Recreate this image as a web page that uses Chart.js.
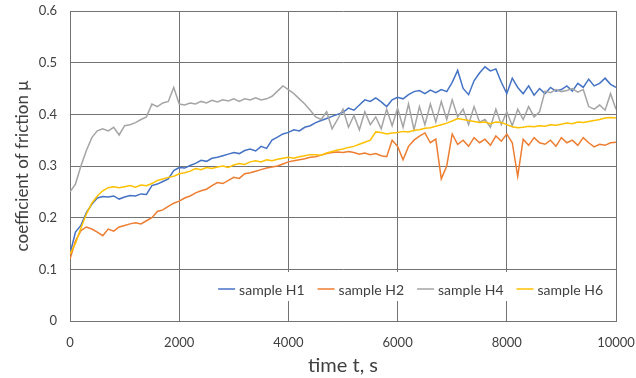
<!DOCTYPE html>
<html>
<head>
<meta charset="utf-8">
<script src="https://cdn.jsdelivr.net/npm/chart.js@4"></script>
<style>
  body { margin: 0; background: #fff; }
  canvas { display: block; }
</style>
</head>
<body>
<canvas id="frictionChart" width="636" height="378"></canvas>
<script>
/* Data, one value every 100 s from 0 to 10000 s */
const step = 100;
const seriesNames = ['sample H1', 'sample H2', 'sample H4', 'sample H6'];
const seriesColors = ['#4472C4', '#ED7D31', '#A5A5A5', '#FFC000'];
const xTicks = [0, 2000, 4000, 6000, 8000, 10000];
const yTicks = [0, 0.1, 0.2, 0.3, 0.4, 0.5, 0.6];

const h1 = [0.13, 0.172, 0.185, 0.21, 0.226, 0.238, 0.241, 0.24, 0.242, 0.236,
  0.24, 0.243, 0.242, 0.246, 0.245, 0.262, 0.265, 0.27, 0.275, 0.291,
  0.297, 0.296, 0.301, 0.305, 0.311, 0.309, 0.315, 0.317, 0.32, 0.323,
  0.326, 0.324, 0.33, 0.333, 0.329, 0.338, 0.334, 0.35, 0.356, 0.362,
  0.365, 0.37, 0.368, 0.375, 0.378, 0.384, 0.388, 0.392, 0.396, 0.4,
  0.404, 0.412, 0.408, 0.418, 0.428, 0.425, 0.432, 0.424, 0.415, 0.428,
  0.433, 0.43, 0.438, 0.444, 0.446, 0.44, 0.447, 0.442, 0.448, 0.444,
  0.462, 0.485, 0.45, 0.438, 0.465, 0.48, 0.492, 0.484, 0.488, 0.462,
  0.44, 0.47, 0.452, 0.44, 0.455, 0.437, 0.45, 0.44, 0.452, 0.445,
  0.448, 0.455, 0.445, 0.46, 0.452, 0.468, 0.455, 0.46, 0.47, 0.458,
  0.452];

const h2 = [0.12, 0.155, 0.175, 0.182, 0.178, 0.172, 0.165, 0.178, 0.174, 0.182,
  0.185, 0.188, 0.19, 0.188, 0.194, 0.2, 0.212, 0.215, 0.222, 0.228,
  0.232, 0.238, 0.242, 0.248, 0.252, 0.255, 0.262, 0.268, 0.266, 0.272,
  0.278, 0.276, 0.285, 0.287, 0.29, 0.293, 0.296, 0.298, 0.3, 0.304,
  0.308, 0.31, 0.312, 0.314, 0.317, 0.318, 0.321, 0.324, 0.326, 0.327,
  0.326, 0.328, 0.326, 0.323, 0.325, 0.322, 0.324, 0.32, 0.318, 0.35,
  0.338, 0.312, 0.338, 0.35, 0.358, 0.364, 0.345, 0.352, 0.275, 0.3,
  0.362, 0.342, 0.35, 0.338, 0.355, 0.345, 0.352, 0.34, 0.358, 0.348,
  0.362, 0.345, 0.28, 0.352, 0.34, 0.355, 0.345, 0.342, 0.35, 0.338,
  0.355, 0.345, 0.35, 0.34, 0.355, 0.345, 0.337, 0.342, 0.34, 0.345,
  0.346];

const h4 = [0.25, 0.265, 0.3, 0.33, 0.355, 0.368, 0.372, 0.368, 0.375, 0.36,
  0.378, 0.38, 0.384, 0.39, 0.395, 0.42, 0.415, 0.422, 0.425, 0.452,
  0.42, 0.418, 0.422, 0.42, 0.425, 0.422, 0.427, 0.424, 0.428, 0.426,
  0.43, 0.425, 0.43, 0.428, 0.432, 0.428, 0.43, 0.435, 0.445, 0.455,
  0.448, 0.44, 0.43, 0.42, 0.408, 0.395, 0.39, 0.405, 0.372, 0.39,
  0.41, 0.375, 0.398, 0.37, 0.405, 0.38, 0.395, 0.372, 0.41, 0.378,
  0.412, 0.375, 0.42, 0.37, 0.415, 0.38, 0.42, 0.385, 0.425, 0.39,
  0.428, 0.395, 0.41, 0.38, 0.415, 0.385, 0.39, 0.375, 0.41, 0.38,
  0.405, 0.378, 0.41, 0.39, 0.415, 0.395, 0.405, 0.445, 0.442, 0.448,
  0.444, 0.446, 0.45, 0.443, 0.448, 0.415, 0.41, 0.418, 0.408, 0.44,
  0.41];

const h6 = [0.13, 0.15, 0.18, 0.207, 0.228, 0.242, 0.252, 0.258, 0.26, 0.258,
  0.26, 0.262, 0.259, 0.263, 0.262, 0.266, 0.272, 0.275, 0.278, 0.28,
  0.285, 0.287, 0.29, 0.295, 0.293, 0.297, 0.295, 0.298, 0.3, 0.297,
  0.302, 0.305, 0.303, 0.308, 0.31, 0.308, 0.312, 0.31, 0.313, 0.315,
  0.317, 0.315, 0.318, 0.32, 0.322, 0.322, 0.321, 0.325, 0.328, 0.331,
  0.333, 0.336, 0.338, 0.342, 0.346, 0.35, 0.366, 0.365, 0.362, 0.364,
  0.365, 0.367, 0.366, 0.369, 0.37, 0.373, 0.374, 0.377, 0.38, 0.383,
  0.387, 0.392, 0.39, 0.388, 0.386, 0.384, 0.385, 0.382, 0.385, 0.384,
  0.38, 0.376, 0.374, 0.375, 0.377, 0.376, 0.378, 0.377, 0.38, 0.379,
  0.381, 0.383, 0.382, 0.385, 0.384, 0.386, 0.388, 0.39, 0.393, 0.394,
  0.393];

const seriesValues = [h1, h2, h4, h6];

/* Build datasets */
const toPoints = vals => vals.map((v, i) => ({ x: i * step, y: v }));
const datasets = seriesValues.map((vals, i) => ({
  label: seriesNames[i],
  data: toPoints(vals),
  borderColor: seriesColors[i],
  backgroundColor: seriesColors[i],
  borderWidth: 1.5,
  pointRadius: 0,
  tension: 0,
  order: 4 - i
}));

const fontFamily = 'Lato, "Open Sans", sans-serif';
const gridColor = '#737373';

/* legend drawn inside the plot, over a white box */
const insideLegend = {
  id: 'insideLegend',
  afterDraw(chart) {
    const ctx = chart.ctx;
    const area = chart.chartArea;
    ctx.save();
    ctx.font = '14px ' + fontFamily;
    const lineLen = 17, gap = 4, itemGap = 13;
    const widths = seriesNames.map(n => ctx.measureText(n).width);
    let total = 0;
    widths.forEach(w => total += lineLen + gap + w);
    total += itemGap * (widths.length - 1);
    const yMid = area.bottom - 32;
    let x = area.right - 13 - total;
    ctx.fillStyle = '#fff';
    ctx.fillRect(x - 10, yMid - 17, total + 18, 29);
    ctx.textBaseline = 'middle';
    seriesNames.forEach((n, i) => {
      ctx.strokeStyle = seriesColors[i];
      ctx.lineWidth = 1.5;
      ctx.beginPath();
      ctx.moveTo(x, yMid);
      ctx.lineTo(x + lineLen, yMid);
      ctx.stroke();
      ctx.fillStyle = '#404040';
      ctx.fillText(n, x + lineLen + gap, yMid + 1);
      x += lineLen + gap + widths[i] + itemGap;
    });
    ctx.restore();
  }
};

new Chart(document.getElementById('frictionChart'), {
  type: 'line',
  data: { datasets },
  options: {
    responsive: false,
    animation: false,
    layout: { padding: { left: 0, right: 20, top: 11, bottom: 0 } },
    plugins: { legend: { display: false }, tooltip: { enabled: false } },
    scales: {
      x: {
        type: 'linear',
        min: 0,
        max: 10000,
        afterBuildTicks: s => { s.ticks = xTicks.map(v => ({ value: v })); },
        afterFit: s => { s.height = 57; s.paddingLeft = 0; s.paddingRight = 0; },
        grid: { color: gridColor, lineWidth: 1, drawTicks: false },
        border: { color: gridColor },
        ticks: {
          color: '#404040', padding: 14,
          font: { family: fontFamily, size: 13 },
          callback: v => String(v)
        },
        title: {
          display: true, text: 'time t, s', color: '#404040',
          font: { family: fontFamily, size: 20 },
          padding: { top: 0, bottom: 0 }
        }
      },
      y: {
        min: 0,
        max: 0.6,
        afterBuildTicks: s => { s.ticks = yTicks.map(v => ({ value: v })); },
        afterFit: s => { s.width = 70; s.paddingTop = 0; s.paddingBottom = 0; },
        grid: { color: gridColor, lineWidth: 1, drawTicks: false },
        border: { color: gridColor },
        ticks: {
          color: '#404040', padding: 13,
          font: { family: fontFamily, size: 13 },
          callback: v => String(+v.toFixed(1))
        },
        title: {
          display: true, text: 'coefficient of friction μ', color: '#404040',
          font: { family: fontFamily, size: 17 },
          padding: { top: 12, bottom: 0 }
        }
      }
    }
  },
  plugins: [insideLegend]
});
</script>
</body>
</html>
